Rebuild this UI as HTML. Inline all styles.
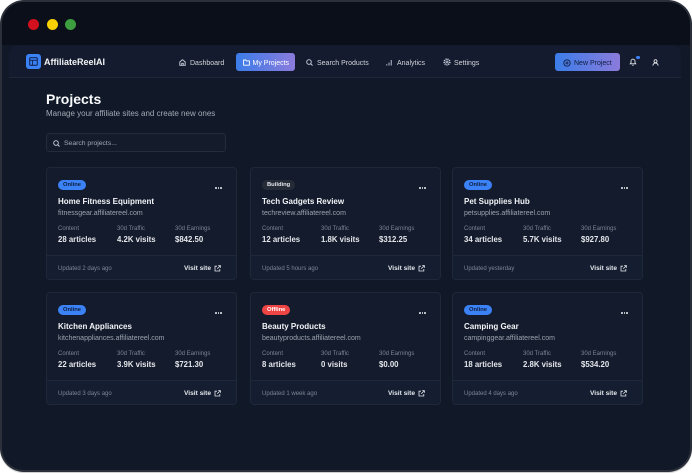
<!DOCTYPE html>
<html><head><meta charset="utf-8">
<style>
*{margin:0;padding:0;box-sizing:border-box}
html,body{width:692px;height:473px;background:#fff;overflow:hidden;font-family:"Liberation Sans",sans-serif}
.win{position:absolute;left:0;top:0;width:692px;height:472px;border-radius:24px;background:#2a2f3a;box-shadow:0 1px 1px rgba(0,0,0,.22)}
.inner{position:absolute;left:2px;top:2px;right:2px;bottom:2px;border-radius:22px;background:#111827;overflow:hidden}
.tb{position:absolute;left:0;top:0;right:0;height:43px;background:#0b0f19}
.dot{position:absolute;width:11px;height:11px;border-radius:50%;top:18.5px}
.nav{position:absolute;left:9px;top:45px;width:672px;height:33px;background:#141b2e;border-radius:10px 10px 0 0;border-bottom:1px solid #1e2637}
.t{position:absolute;white-space:nowrap;line-height:1}
.nt{font-size:7px;color:#d1d5db}
.ic{position:absolute}
.btn{position:absolute;top:53px;height:18px;border-radius:3px;background:linear-gradient(90deg,#3b7de9,#8b7bdc)}
.search{position:absolute;left:46px;top:133px;width:180px;height:19px;border:1px solid #232c3d;border-radius:3px;background:#141b2b}
.card{position:absolute;width:191px;height:113px;background:#131b2d;border:1px solid #1f2839;border-radius:4px;overflow:hidden}
.card .badge{position:absolute;left:11px;top:12px;height:10px;line-height:10px;padding:0 5px;border-radius:5px;font-size:5.8px;font-weight:bold}
.on{background:#3b82f6;color:#0f1d3b}
.bd{background:#252c38;color:#e5e7eb}
.off{background:#ef4444;color:#fff}
.card .dots{position:absolute;left:168px;top:19px;width:7px;height:2px}
.card .dots i{position:absolute;top:0;width:1.5px;height:1.5px;border-radius:50%;background:#d1d5db}
.card .ti{position:absolute;left:11px;top:30px;font-size:8px;font-weight:bold;color:#f3f4f6;white-space:nowrap;line-height:1}
.card .url{position:absolute;left:11px;top:42px;font-size:7px;color:#9ca3af;white-space:nowrap;line-height:1}
.card .lb{position:absolute;top:58px;font-size:6px;color:#7d8594;white-space:nowrap;line-height:1}
.card .vl{position:absolute;top:67.5px;font-size:7.8px;font-weight:bold;color:#e5e7eb;white-space:nowrap;line-height:1}
.card .ft{position:absolute;left:0;right:0;top:87px;bottom:0;background:#151e31;border-top:1px solid #1f2839}
.card .up{position:absolute;left:11px;top:97.5px;font-size:6px;color:#7d8594;white-space:nowrap;line-height:1}
.card .vs{position:absolute;left:137px;top:97.5px;font-size:6.6px;font-weight:bold;color:#e5e7eb;white-space:nowrap;line-height:1}
.card .ex{position:absolute;left:167px;top:96.5px}
</style></head><body>
<div class="win"><div class="inner"><div class="tb"></div></div></div>
<div class="dot" style="left:27.5px;background:#d2101e"></div>
<div class="dot" style="left:46.5px;background:#f7d100"></div>
<div class="dot" style="left:64.5px;background:#3d9e3f"></div>

<div class="nav"></div>
<!-- logo -->
<div style="position:absolute;left:26px;top:54px;width:15px;height:15px;border-radius:3px;background:#3b82f6"></div>
<svg class="ic" style="left:29px;top:57px" width="9" height="9" viewBox="0 0 9 9"><rect x="0.7" y="0.7" width="7.6" height="7.6" rx="1" fill="none" stroke="#13275a" stroke-width="1.1"/><line x1="0.7" y1="3.3" x2="8.3" y2="3.3" stroke="#13275a" stroke-width="1"/><line x1="3.6" y1="3.3" x2="3.6" y2="8.3" stroke="#13275a" stroke-width="1"/></svg>
<div class="t" style="left:44px;top:58px;font-size:9px;font-weight:bold;color:#f3f4f6">AffiliateReelAI</div>

<!-- nav items -->
<svg class="ic" style="left:179px;top:58.5px" width="7" height="7" viewBox="0 0 7 7"><path d="M0.8 3 L3.5 0.7 L6.2 3 V6.3 H0.8 Z" fill="none" stroke="#cbd5e1" stroke-width="0.9"/><path d="M2.7 6.3 V4.3 H4.3 V6.3" fill="none" stroke="#cbd5e1" stroke-width="0.8"/></svg>
<div class="t nt" style="left:190px;top:59.6px">Dashboard</div>

<div class="btn" style="left:236px;width:59px"></div>
<svg class="ic" style="left:243px;top:58.5px" width="7" height="7" viewBox="0 0 7 7"><path d="M0.6 1 H2.8 L3.5 1.9 H6.4 V6.2 H0.6 Z" fill="none" stroke="#fff" stroke-width="0.9"/></svg>
<div class="t nt" style="left:252.5px;top:59.6px;color:#fff">My Projects</div>

<svg class="ic" style="left:306px;top:58.5px" width="7" height="7" viewBox="0 0 7 7"><circle cx="3" cy="3" r="2.3" fill="none" stroke="#cbd5e1" stroke-width="0.9"/><line x1="4.7" y1="4.7" x2="6.5" y2="6.5" stroke="#cbd5e1" stroke-width="0.9"/></svg>
<div class="t nt" style="left:317px;top:59.6px">Search Products</div>

<svg class="ic" style="left:386px;top:58.5px" width="6" height="7" viewBox="0 0 6 7"><line x1="0.8" y1="6.5" x2="0.8" y2="5.2" stroke="#cbd5e1" stroke-width="0.9"/><line x1="3" y1="6.5" x2="3" y2="3.6" stroke="#cbd5e1" stroke-width="0.9"/><line x1="5.2" y1="6.5" x2="5.2" y2="1" stroke="#cbd5e1" stroke-width="0.9"/></svg>
<div class="t nt" style="left:397px;top:59.6px">Analytics</div>

<svg class="ic" style="left:442.5px;top:58px" width="8" height="8" viewBox="0 0 8 8"><circle cx="4" cy="4" r="2.8" fill="none" stroke="#cbd5e1" stroke-width="1.6" stroke-dasharray="1.1 0.8"/><circle cx="4" cy="4" r="1" fill="none" stroke="#cbd5e1" stroke-width="0.8"/></svg>
<div class="t nt" style="left:454px;top:59.6px">Settings</div>

<div class="btn" style="left:555px;width:65px"></div>
<svg class="ic" style="left:562.5px;top:58.5px" width="8" height="8" viewBox="0 0 8 8"><circle cx="4" cy="4" r="3.2" fill="none" stroke="#0f1d3b" stroke-width="0.9"/><line x1="4" y1="2.4" x2="4" y2="5.6" stroke="#0f1d3b" stroke-width="0.9"/><line x1="2.4" y1="4" x2="5.6" y2="4" stroke="#0f1d3b" stroke-width="0.9"/></svg>
<div class="t nt" style="left:574px;top:59.6px;color:#0f1d3b">New Project</div>

<svg class="ic" style="left:629px;top:58px" width="8" height="8" viewBox="0 0 8 8"><path d="M1.3 5.8 H6.7 L6 4.8 V3.2 A2 2 0 0 0 2 3.2 V4.8 Z" fill="none" stroke="#e5e7eb" stroke-width="0.9"/><line x1="3.2" y1="7.2" x2="4.8" y2="7.2" stroke="#e5e7eb" stroke-width="0.8"/></svg>
<div style="position:absolute;left:636px;top:55.5px;width:3.5px;height:3.5px;border-radius:50%;background:#3b82f6"></div>
<svg class="ic" style="left:651.5px;top:58.5px" width="7" height="7" viewBox="0 0 7 7"><circle cx="3.5" cy="2.2" r="1.5" fill="none" stroke="#e5e7eb" stroke-width="0.9"/><path d="M0.9 6.6 A2.6 2.6 0 0 1 6.1 6.6" fill="none" stroke="#e5e7eb" stroke-width="0.9"/></svg>

<!-- header -->
<div class="t" style="left:46px;top:91.5px;font-size:14px;font-weight:bold;color:#f9fafb">Projects</div>
<div class="t" style="left:46px;top:109.8px;font-size:8px;color:#a3aab6">Manage your affiliate sites and create new ones</div>

<div class="search"></div>
<svg class="ic" style="left:53px;top:139.5px" width="7" height="7" viewBox="0 0 7 7"><circle cx="3" cy="3" r="2.3" fill="none" stroke="#cbd5e1" stroke-width="0.9"/><line x1="4.7" y1="4.7" x2="6.5" y2="6.5" stroke="#cbd5e1" stroke-width="0.9"/></svg>
<div class="t" style="left:64px;top:140.8px;font-size:6.8px;color:#a3aab6">Search projects...</div>

<!-- cards -->
<div class="card" style="left:46px;top:167px">
<div class="ft"></div>
<div class="badge on">Online</div>
<div class="dots"><i style="left:0"></i><i style="left:2.5px"></i><i style="left:5px"></i></div>
<div class="ti">Home Fitness Equipment</div>
<div class="url">fitnessgear.affiliatereel.com</div>
<div class="lb" style="left:11px">Content</div><div class="lb" style="left:70px">30d Traffic</div><div class="lb" style="left:128px">30d Earnings</div>
<div class="vl" style="left:11px">28 articles</div><div class="vl" style="left:70px">4.2K visits</div><div class="vl" style="left:128px">$842.50</div>
<div class="up">Updated 2 days ago</div>
<div class="vs">Visit site</div>
<svg class="ex" width="7" height="7" viewBox="0 0 7 7"><path d="M3 1.2 H1 V6 H5.8 V4" fill="none" stroke="#e5e7eb" stroke-width="0.8"/><path d="M4.2 0.6 H6.4 V2.8 M6.4 0.6 L3.3 3.7" fill="none" stroke="#e5e7eb" stroke-width="0.8"/></svg>
</div>

<div class="card" style="left:250px;top:167px">
<div class="ft"></div>
<div class="badge bd">Building</div>
<div class="dots"><i style="left:0"></i><i style="left:2.5px"></i><i style="left:5px"></i></div>
<div class="ti">Tech Gadgets Review</div>
<div class="url">techreview.affiliatereel.com</div>
<div class="lb" style="left:11px">Content</div><div class="lb" style="left:70px">30d Traffic</div><div class="lb" style="left:128px">30d Earnings</div>
<div class="vl" style="left:11px">12 articles</div><div class="vl" style="left:70px">1.8K visits</div><div class="vl" style="left:128px">$312.25</div>
<div class="up">Updated 5 hours ago</div>
<div class="vs">Visit site</div>
<svg class="ex" width="7" height="7" viewBox="0 0 7 7"><path d="M3 1.2 H1 V6 H5.8 V4" fill="none" stroke="#e5e7eb" stroke-width="0.8"/><path d="M4.2 0.6 H6.4 V2.8 M6.4 0.6 L3.3 3.7" fill="none" stroke="#e5e7eb" stroke-width="0.8"/></svg>
</div>

<div class="card" style="left:452px;top:167px">
<div class="ft"></div>
<div class="badge on">Online</div>
<div class="dots"><i style="left:0"></i><i style="left:2.5px"></i><i style="left:5px"></i></div>
<div class="ti">Pet Supplies Hub</div>
<div class="url">petsupplies.affiliatereel.com</div>
<div class="lb" style="left:11px">Content</div><div class="lb" style="left:70px">30d Traffic</div><div class="lb" style="left:128px">30d Earnings</div>
<div class="vl" style="left:11px">34 articles</div><div class="vl" style="left:70px">5.7K visits</div><div class="vl" style="left:128px">$927.80</div>
<div class="up">Updated yesterday</div>
<div class="vs">Visit site</div>
<svg class="ex" width="7" height="7" viewBox="0 0 7 7"><path d="M3 1.2 H1 V6 H5.8 V4" fill="none" stroke="#e5e7eb" stroke-width="0.8"/><path d="M4.2 0.6 H6.4 V2.8 M6.4 0.6 L3.3 3.7" fill="none" stroke="#e5e7eb" stroke-width="0.8"/></svg>
</div>

<div class="card" style="left:46px;top:292px">
<div class="ft"></div>
<div class="badge on">Online</div>
<div class="dots"><i style="left:0"></i><i style="left:2.5px"></i><i style="left:5px"></i></div>
<div class="ti">Kitchen Appliances</div>
<div class="url">kitchenappliances.affiliatereel.com</div>
<div class="lb" style="left:11px">Content</div><div class="lb" style="left:70px">30d Traffic</div><div class="lb" style="left:128px">30d Earnings</div>
<div class="vl" style="left:11px">22 articles</div><div class="vl" style="left:70px">3.9K visits</div><div class="vl" style="left:128px">$721.30</div>
<div class="up">Updated 3 days ago</div>
<div class="vs">Visit site</div>
<svg class="ex" width="7" height="7" viewBox="0 0 7 7"><path d="M3 1.2 H1 V6 H5.8 V4" fill="none" stroke="#e5e7eb" stroke-width="0.8"/><path d="M4.2 0.6 H6.4 V2.8 M6.4 0.6 L3.3 3.7" fill="none" stroke="#e5e7eb" stroke-width="0.8"/></svg>
</div>

<div class="card" style="left:250px;top:292px">
<div class="ft"></div>
<div class="badge off">Offline</div>
<div class="dots"><i style="left:0"></i><i style="left:2.5px"></i><i style="left:5px"></i></div>
<div class="ti">Beauty Products</div>
<div class="url">beautyproducts.affiliatereel.com</div>
<div class="lb" style="left:11px">Content</div><div class="lb" style="left:70px">30d Traffic</div><div class="lb" style="left:128px">30d Earnings</div>
<div class="vl" style="left:11px">8 articles</div><div class="vl" style="left:70px">0 visits</div><div class="vl" style="left:128px">$0.00</div>
<div class="up">Updated 1 week ago</div>
<div class="vs">Visit site</div>
<svg class="ex" width="7" height="7" viewBox="0 0 7 7"><path d="M3 1.2 H1 V6 H5.8 V4" fill="none" stroke="#e5e7eb" stroke-width="0.8"/><path d="M4.2 0.6 H6.4 V2.8 M6.4 0.6 L3.3 3.7" fill="none" stroke="#e5e7eb" stroke-width="0.8"/></svg>
</div>

<div class="card" style="left:452px;top:292px">
<div class="ft"></div>
<div class="badge on">Online</div>
<div class="dots"><i style="left:0"></i><i style="left:2.5px"></i><i style="left:5px"></i></div>
<div class="ti">Camping Gear</div>
<div class="url">campinggear.affiliatereel.com</div>
<div class="lb" style="left:11px">Content</div><div class="lb" style="left:70px">30d Traffic</div><div class="lb" style="left:128px">30d Earnings</div>
<div class="vl" style="left:11px">18 articles</div><div class="vl" style="left:70px">2.8K visits</div><div class="vl" style="left:128px">$534.20</div>
<div class="up">Updated 4 days ago</div>
<div class="vs">Visit site</div>
<svg class="ex" width="7" height="7" viewBox="0 0 7 7"><path d="M3 1.2 H1 V6 H5.8 V4" fill="none" stroke="#e5e7eb" stroke-width="0.8"/><path d="M4.2 0.6 H6.4 V2.8 M6.4 0.6 L3.3 3.7" fill="none" stroke="#e5e7eb" stroke-width="0.8"/></svg>
</div>
</body></html>
